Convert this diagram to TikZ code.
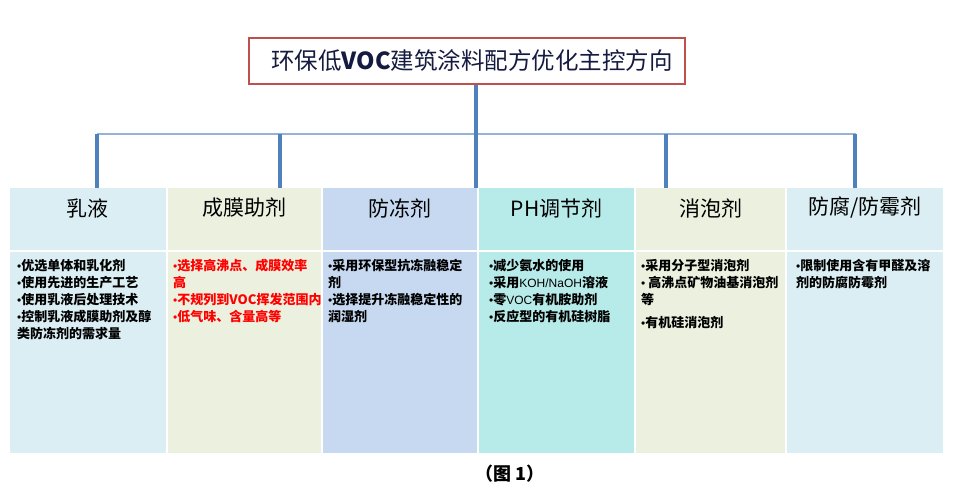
\documentclass[tikz,border=0pt]{standalone}
\usepackage{fontspec}
\newfontfamily\cjk{Noto Sans CJK SC}
\newfontfamily\latinsans{Liberation Sans}
\newcommand\mybul{{\latinsans\mdseries\fontsize{12}{12}\selectfont •}}
\definecolor{cA}{HTML}{DAEEF3}
\definecolor{cB}{HTML}{EBF1DE}
\definecolor{cC}{HTML}{C6D9F1}
\definecolor{cD}{HTML}{B6EBE9}
\definecolor{busblue}{HTML}{95B3D7}
\definecolor{dropblue}{HTML}{4F81BD}
\definecolor{titlered}{HTML}{C0504D}
\definecolor{titletext}{HTML}{141A40}
\begin{document}
\begin{tikzpicture}[x=1pt,y=-1pt,
  hbox/.style={anchor=north west, inner sep=0pt, minimum height=62pt},
  bbox/.style={anchor=north west, inner sep=0pt, minimum height=200.5pt},
  htext/.style={inner sep=0pt, font=\cjk\fontsize{21}{24}\selectfont, text=black},
  btext/.style={anchor=north west, inner sep=0pt, align=left, font=\cjk\bfseries\fontsize{13}{17}\selectfont, text=black},
  bus/.style={draw=busblue, line width=2pt},
  drop/.style={draw=dropblue, line width=3.2pt}]
\path[fill=white] (0,0) rectangle (955,496);
\useasboundingbox (0,0) rectangle (955,496);

% column header boxes
\node[hbox, fill=cA, minimum width=155.5pt] (h1) at (10,188) {};
\node[hbox, fill=cB, minimum width=153.5pt] (h2) at (167.5,188) {};
\node[hbox, fill=cC, minimum width=154pt] (h3) at (323,188) {};
\node[hbox, fill=cD, minimum width=155pt] (h4) at (479,188) {};
\node[hbox, fill=cB, minimum width=149pt] (h5) at (636,188) {};
\node[hbox, fill=cA, minimum width=156pt] (h6) at (787,188) {};
% body boxes
\node[bbox, fill=cA, minimum width=155.5pt] (b1) at (10,252) {};
\node[bbox, fill=cB, minimum width=153.5pt] (b2) at (167.5,252) {};
\node[bbox, fill=cC, minimum width=154pt] (b3) at (323,252) {};
\node[bbox, fill=cD, minimum width=155pt] (b4) at (479,252) {};
\node[bbox, fill=cB, minimum width=149pt] (b5) at (636,252) {};
\node[bbox, fill=cA, minimum width=156pt] (b6) at (787,252) {};

% header texts
\node[htext] (t1) at (87.75,208) {乳液};
\node[htext] (t2) at (244.25,208) {成膜助剂};
\node[htext] (t3) at (400,208) {防冻剂};
\node[htext] (t4) at (556.5,208) {PH调节剂};
\node[htext] (t5) at (710.5,208) {消泡剂};
\node[htext] (t6) at (865,208) {防腐/防霉剂};

% body texts
\node[btext] (p1) at (17,259) {\mybul 优选单体和乳化剂\\\mybul 使用先进的生产工艺\\\mybul 使用乳液后处理技术\\\mybul 控制乳液成膜助剂及醇\\类防冻剂的需求量};
\node[btext, text=red] (p2) at (173,259) {\mybul 选择高沸点、成膜效率\\高\\\mybul 不规列到VOC挥发范围内\\\mybul 低气味、含量高等};
\node[btext] (p3) at (328,259) {\mybul 采用环保型抗冻融稳定\\剂\\\mybul 选择提升冻融稳定性的\\润湿剂};
\node[btext] (p4) at (489,259) {\mybul 减少氨水的使用\\\mybul 采用{\latinsans\mdseries\fontsize{12}{17}\selectfont KOH/NaOH}溶液\\\mybul 零{\latinsans\mdseries\fontsize{12}{17}\selectfont VOC}有机胺助剂\\\mybul 反应型的有机硅树脂};
\node[btext] (p5) at (641,259) {\mybul 采用分子型消泡剂\\\mybul\ 高沸点矿物油基消泡剂\\等\\[6pt]\mybul 有机硅消泡剂};
\node[btext] (p6) at (796,259) {\mybul 限制使用含有甲醛及溶\\剂的防腐防霉剂};

% title
\node[draw=titlered, line width=2pt, fill=white, minimum width=436pt, minimum height=46pt, inner sep=0pt] (title) at (467,61) {\hspace*{10pt}\cjk\fontsize{23.5}{26}\selectfont\color{titletext}环保低\textbf{VOC}建筑涂料配方优化主控方向};

% connectors
\coordinate (bl) at (97,134);
\coordinate (br) at (856,134);
\coordinate (m) at (476,134);
\coordinate (d2) at (280,134);
\coordinate (d4) at (666,134);
\coordinate (d5) at (855,134);
\draw[bus] (bl) -- (br);
\draw[drop] (m |- title.south) -- (m);
\draw[drop] (bl) -- (bl |- h1.north);
\draw[drop] (d2) -- (d2 |- h2.north);
\draw[drop] (m) -- (m |- h3.north);
\draw[drop] (d4) -- (d4 |- h5.north);
\draw[drop] (d5) -- (d5 |- h6.north);

% caption
\node[inner sep=0pt, font=\cjk\bfseries\fontsize{18}{20}\selectfont] (cap) at (510,474) {（图 1）};
\end{tikzpicture}
\end{document}
